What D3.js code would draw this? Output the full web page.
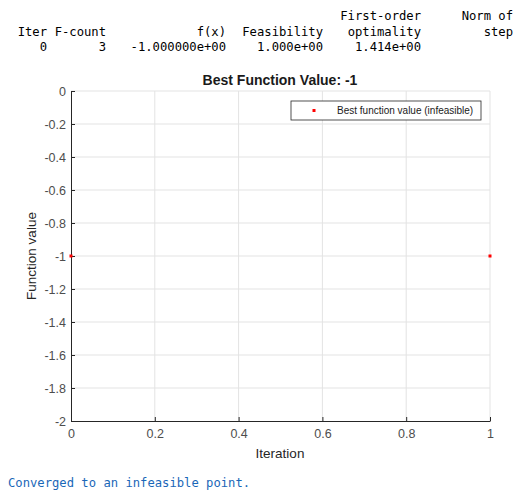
<!doctype html>
<html lang="en">
<head>
<meta charset="utf-8">
<style>
  body { margin: 0; background: #fff; }
  svg { display: block; }
  .mono { font-family: "DejaVu Sans Mono", monospace; font-size: 12.2px; fill: #000; }
  .tick text { font-family: "Liberation Sans", Arial, sans-serif; font-size: 12.5px; fill: #4d4d4d; }
  .grid line { stroke: #e3e3e3; }
</style>
</head>
<body>
<script src="https://cdn.jsdelivr.net/npm/d3@7"></script>
<script>
// header table printed above the figure
var headRow1 = ["", "", "", "", "First-order", "Norm of"];
var headRow2 = ["Iter", "F-count", "f(x)", "Feasibility", "optimality", "step"];
var iterRow = ["0", "3", "-1.000000e+00", "1.000e+00", "1.414e+00", ""];

// plotted data
var iterations = [0, 1];
var bestValues = [-1, -1];
var xTicks = [0, 0.2, 0.4, 0.6, 0.8, 1];
var yTicks = [0, -0.2, -0.4, -0.6, -0.8, -1, -1.2, -1.4, -1.6, -1.8, -2];

var W = 522, H = 490;
var margin = {left: 71, right: 32, top: 91, bottom: 69};

var svg = d3.select("body").append("svg").attr("width", W).attr("height", H);

var colEnds = [47, 106, 226, 323, 421, 513];
[[headRow1, 20], [headRow2, 36], [iterRow, 51]].forEach(function(r) {
  svg.append("g").selectAll("text").data(r[0]).enter().append("text")
    .attr("class", "mono")
    .attr("x", function(d, i) { return colEnds[i]; })
    .attr("y", r[1])
    .attr("text-anchor", "end")
    .text(function(d) { return d; });
});

var x = d3.scaleLinear().domain([0, 1]).range([margin.left, W - margin.right]);
var y = d3.scaleLinear().domain([-2, 0]).range([H - margin.bottom, margin.top]);

// grid
svg.append("g").attr("class", "grid")
  .selectAll("line.v").data(xTicks.slice(1)).enter().append("line")
  .attr("x1", x).attr("x2", x).attr("y1", y(0)).attr("y2", y(-2));
svg.append("g").attr("class", "grid")
  .selectAll("line.h").data(yTicks.slice(0, -1)).enter().append("line")
  .attr("x1", x(0)).attr("x2", x(1)).attr("y1", y).attr("y2", y);

var fmt = function(d) { return String(d); };

var xAxis = svg.append("g").attr("transform", "translate(0," + y(-2) + ")")
  .call(d3.axisBottom(x).tickValues(xTicks).tickFormat(fmt).tickSizeInner(-4).tickSizeOuter(0).tickPadding(8));
var yAxis = svg.append("g").attr("transform", "translate(" + x(0) + ",0)")
  .call(d3.axisLeft(y).tickValues(yTicks).tickFormat(fmt).tickSizeInner(-4).tickSizeOuter(0).tickPadding(5));
[xAxis, yAxis].forEach(function(a) {
  a.select(".domain").attr("stroke", "#262626").attr("stroke-width", 1);
  a.selectAll(".tick line").attr("stroke", "#262626");
});
xAxis.selectAll(".tick text").attr("dy", "0.71em");

// points
svg.append("g").selectAll("rect").data(iterations).enter().append("rect")
  .attr("x", function(d) { return x(d) - 1.5; })
  .attr("y", function(d, i) { return y(bestValues[i]) - 1.5; })
  .attr("width", 3).attr("height", 3)
  .attr("fill", "#ff0000");

// title and labels
svg.append("text").attr("x", 280).attr("y", 85).attr("text-anchor", "middle")
  .style("font-family", "Liberation Sans, Arial, sans-serif").style("font-size", "14px")
  .style("font-weight", "bold").attr("fill", "#1a1a1a")
  .text("Best Function Value: -1");
svg.append("text").attr("x", 280).attr("y", 458).attr("text-anchor", "middle")
  .style("font-family", "Liberation Sans, Arial, sans-serif").style("font-size", "13.5px")
  .attr("fill", "#262626").text("Iteration");
svg.append("text").attr("transform", "translate(36,256) rotate(-90)").attr("text-anchor", "middle")
  .style("font-family", "Liberation Sans, Arial, sans-serif").style("font-size", "13.5px")
  .attr("fill", "#262626").text("Function value");

// legend
var lg = svg.append("g").attr("transform", "translate(291,101)");
lg.append("rect").attr("width", 190).attr("height", 19).attr("fill", "#fff")
  .attr("stroke", "#262626").attr("stroke-width", 0.8);
lg.append("rect").attr("x", 21.5).attr("y", 8).attr("width", 3).attr("height", 3).attr("fill", "#ff0000");
lg.append("text").attr("x", 46).attr("y", 13.2)
  .style("font-family", "Liberation Sans, Arial, sans-serif").style("font-size", "10px")
  .attr("fill", "#1a1a1a").text("Best function value (infeasible)");

// footer message
svg.append("text").attr("class", "mono").attr("x", 8).attr("y", 487)
  .style("fill", "#1a67b8").text("Converged to an infeasible point.");
</script>
</body>
</html>
